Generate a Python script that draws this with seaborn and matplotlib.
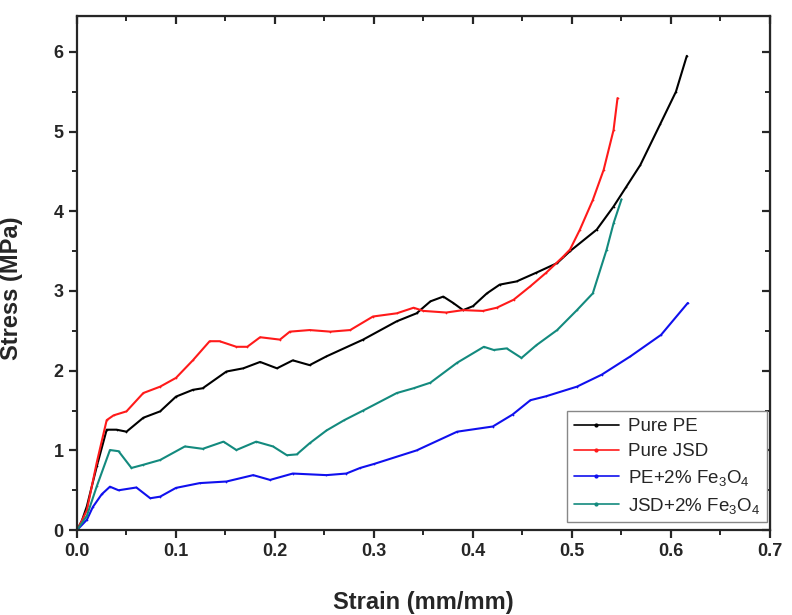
import pandas as pd
import seaborn as sns
import matplotlib.pyplot as plt
from matplotlib.ticker import MultipleLocator

# Values
pe_x = [0, 0.005, 0.01, 0.02, 0.03, 0.04, 0.05, 0.067, 0.084, 0.1, 0.117, 0.127, 0.151,
        0.168, 0.185, 0.202, 0.218, 0.235, 0.252, 0.289, 0.323, 0.343, 0.357, 0.370,
        0.380, 0.390, 0.400, 0.414, 0.427, 0.444, 0.464, 0.485, 0.498, 0.525, 0.542,
        0.555, 0.569, 0.589, 0.605, 0.616]
pe_y = [0, 0.12, 0.3, 0.8, 1.26, 1.26, 1.235, 1.41, 1.49, 1.675, 1.76, 1.78, 1.99,
        2.03, 2.11, 2.03, 2.13, 2.07, 2.18, 2.39, 2.62, 2.72, 2.87, 2.93,
        2.85, 2.76, 2.81, 2.97, 3.08, 3.12, 3.23, 3.35, 3.50, 3.77, 4.06,
        4.31, 4.58, 5.09, 5.5, 5.95]

jsd_x = [0, 0.005, 0.01, 0.02, 0.03, 0.037, 0.05, 0.067, 0.084, 0.1, 0.117, 0.134, 0.144,
         0.161, 0.172, 0.185, 0.205, 0.215, 0.235, 0.256, 0.276, 0.299, 0.323, 0.340,
         0.350, 0.373, 0.39, 0.41, 0.424, 0.441, 0.458, 0.474, 0.491, 0.498, 0.508,
         0.521, 0.532, 0.542, 0.546]
jsd_y = [0, 0.12, 0.25, 0.85, 1.38, 1.44, 1.49, 1.72, 1.80, 1.91, 2.13, 2.37, 2.37,
         2.30, 2.30, 2.42, 2.39, 2.49, 2.51, 2.49, 2.51, 2.68, 2.72, 2.79,
         2.75, 2.73, 2.76, 2.75, 2.79, 2.89, 3.06, 3.23, 3.43, 3.52, 3.77,
         4.14, 4.52, 5.02, 5.42]

pefe_x = [0, 0.01, 0.016, 0.025, 0.0333, 0.042, 0.060, 0.074, 0.084, 0.1, 0.124, 0.151,
          0.178, 0.195, 0.218, 0.252, 0.272, 0.286, 0.3, 0.343, 0.384, 0.42, 0.44,
          0.458, 0.474, 0.505, 0.53, 0.559, 0.59, 0.617]
pefe_y = [0, 0.13, 0.29, 0.45, 0.545, 0.50, 0.535, 0.40, 0.42, 0.53, 0.59, 0.61,
          0.69, 0.63, 0.71, 0.69, 0.71, 0.78, 0.83, 1.0, 1.235, 1.30, 1.45,
          1.63, 1.68, 1.80, 1.95, 2.18, 2.45, 2.85]

jsdfe_x = [0, 0.01, 0.02, 0.0333, 0.042, 0.055, 0.067, 0.084, 0.109, 0.127, 0.148, 0.161,
           0.181, 0.198, 0.212, 0.222, 0.235, 0.252, 0.27, 0.289, 0.323, 0.340, 0.357,
           0.384, 0.411, 0.421, 0.434, 0.449, 0.464, 0.485, 0.505, 0.521, 0.535,
           0.542, 0.550]
jsdfe_y = [0, 0.18, 0.55, 1.005, 0.99, 0.78, 0.82, 0.88, 1.05, 1.02, 1.11, 1.005,
           1.11, 1.05, 0.94, 0.95, 1.09, 1.25, 1.38, 1.5, 1.72, 1.78, 1.85,
           2.10, 2.30, 2.26, 2.28, 2.16, 2.32, 2.51, 2.76, 2.97, 3.52,
           3.85, 4.15]

labels = ['Pure PE', 'Pure JSD', 'PE+2% Fe$_3$O$_4$', 'JSD+2% Fe$_3$O$_4$']
colors = ['#000000', '#ff1a1a', '#1010ee', '#138a7e']

frames = []
for name, xs, ys in zip(labels, [pe_x, jsd_x, pefe_x, jsdfe_x], [pe_y, jsd_y, pefe_y, jsdfe_y]):
    frames.append(pd.DataFrame({'strain': xs, 'stress': ys, 'sample': name}))
df = pd.concat(frames, ignore_index=True)

sns.set_style('ticks')
plt.rcParams['font.family'] = ['Liberation Sans', 'DejaVu Sans']
plt.rcParams['mathtext.fontset'] = 'custom'
plt.rcParams['mathtext.rm'] = 'Liberation Sans'
plt.rcParams['mathtext.it'] = 'Liberation Sans'

fig = plt.figure(figsize=(7.92, 6.15), dpi=100)
ax = fig.add_axes([0.0972, 0.138, 0.875, 0.836])

sns.lineplot(data=df, x='strain', y='stress', hue='sample', palette=dict(zip(labels, colors)),
             sort=False, estimator=None, linewidth=1.5, marker='.', markersize=2.5,
             markeredgewidth=0, ax=ax, legend=False)

ax.set_xlim(0, 0.7)
ax.set_ylim(0, 6.45)
ax.xaxis.set_major_locator(MultipleLocator(0.1))
ax.xaxis.set_minor_locator(MultipleLocator(0.05))
ax.yaxis.set_major_locator(MultipleLocator(1))
ax.yaxis.set_minor_locator(MultipleLocator(0.5))
ax.tick_params(which='major', direction='out', length=6, width=1.6, labelsize=13)
ax.tick_params(which='minor', direction='out', length=3.5, width=1.4)
for lab in ax.get_xticklabels() + ax.get_yticklabels():
    lab.set_fontweight('bold')
ax.xaxis.set_major_formatter(plt.FuncFormatter(lambda v, p: f'{v:.1f}'))
ax.yaxis.set_major_formatter(plt.FuncFormatter(lambda v, p: f'{v:.0f}'))
for s in ax.spines.values():
    s.set_linewidth(1.6)

# inward ticks on top and right
top = ax.secondary_xaxis('top')
top.xaxis.set_major_locator(MultipleLocator(0.1))
top.xaxis.set_minor_locator(MultipleLocator(0.05))
top.tick_params(which='major', direction='in', length=6, width=1.6, labeltop=False)
top.tick_params(which='minor', direction='in', length=3.5, width=1.4)
right = ax.secondary_yaxis('right')
right.yaxis.set_major_locator(MultipleLocator(1))
right.yaxis.set_minor_locator(MultipleLocator(0.5))
right.tick_params(which='major', direction='in', length=6, width=1.6, labelright=False)
right.tick_params(which='minor', direction='in', length=3.5, width=1.4)

ax.set_xlabel('Strain (mm/mm)', fontsize=17, fontweight='bold')
ax.set_ylabel('Stress (MPa)', fontsize=17, fontweight='bold')
ax.xaxis.set_label_coords(0.5, -0.118)
ax.yaxis.set_label_coords(-0.078, 0.47)

handles = [plt.Line2D([], [], color=c, linewidth=1.2, marker='.', markersize=4) for c in colors]
leg = ax.legend(handles, labels, loc='lower right', bbox_to_anchor=(0.9957, 0.015),
                fontsize=13.5, frameon=True, fancybox=False, framealpha=1,
                edgecolor='#888888', handlelength=2.4, handletextpad=0.5,
                labelspacing=0.42, borderpad=0.35, borderaxespad=0)
leg.get_frame().set_linewidth(1.0)

fig.savefig('out.png', dpi=100)
